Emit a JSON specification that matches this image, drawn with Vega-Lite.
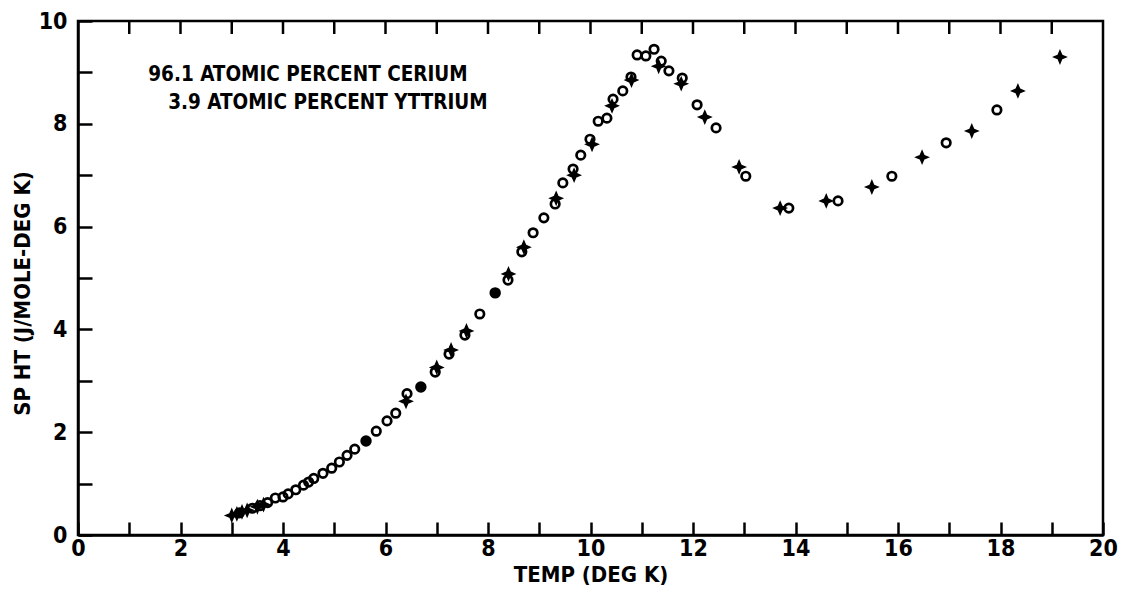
{
  "$schema": "https://vega.github.io/schema/vega-lite/v6.json",
  "width": 1025,
  "height": 514,
  "autosize": "none",
  "padding": {"left": 78, "top": 21, "right": 25, "bottom": 63},
  "background": "white",
  "config": {
    "view": {"stroke": "black", "strokeWidth": 2.5},
    "axis": {
      "domainColor": "black", "domainWidth": 2.5, "tickColor": "black", "tickWidth": 2.5,
      "grid": false, "labelColor": "black", "titleColor": "black",
      "labelFont": "DejaVu Sans Condensed", "labelFontWeight": "bold", "labelFontSize": 23,
      "titleFont": "DejaVu Sans Condensed", "titleFontWeight": "bold", "titleFontSize": 22
    }
  },
  "datasets": {
    "pts": [
      {"t": 3.0, "c": 0.38, "k": "plus"}, {"t": 3.1, "c": 0.41, "k": "plus"}, {"t": 3.2, "c": 0.45, "k": "plus"},
      {"t": 3.3, "c": 0.48, "k": "plus"}, {"t": 3.5, "c": 0.55, "k": "plus"}, {"t": 3.62, "c": 0.59, "k": "plus"},
      {"t": 3.15, "c": 0.43, "k": "open"}, {"t": 3.4, "c": 0.52, "k": "open"}, {"t": 3.55, "c": 0.57, "k": "open"},
      {"t": 3.7, "c": 0.63, "k": "open"}, {"t": 3.85, "c": 0.72, "k": "open"}, {"t": 4.0, "c": 0.74, "k": "open"},
      {"t": 4.1, "c": 0.8, "k": "open"}, {"t": 4.25, "c": 0.88, "k": "open"}, {"t": 4.4, "c": 0.97, "k": "open"},
      {"t": 4.5, "c": 1.03, "k": "open"}, {"t": 4.6, "c": 1.1, "k": "open"}, {"t": 4.78, "c": 1.2, "k": "open"},
      {"t": 4.95, "c": 1.3, "k": "open"}, {"t": 5.1, "c": 1.42, "k": "open"}, {"t": 5.25, "c": 1.55, "k": "open"},
      {"t": 5.4, "c": 1.67, "k": "open"}, {"t": 5.62, "c": 1.83, "k": "filled"}, {"t": 5.82, "c": 2.02, "k": "open"},
      {"t": 6.03, "c": 2.22, "k": "open"}, {"t": 6.2, "c": 2.37, "k": "open"}, {"t": 6.42, "c": 2.75, "k": "open"},
      {"t": 6.4, "c": 2.6, "k": "plus"}, {"t": 6.69, "c": 2.88, "k": "filled"}, {"t": 6.97, "c": 3.17, "k": "open"},
      {"t": 7.0, "c": 3.26, "k": "plus"}, {"t": 7.24, "c": 3.52, "k": "open"}, {"t": 7.28, "c": 3.6, "k": "plus"},
      {"t": 7.55, "c": 3.89, "k": "open"}, {"t": 7.58, "c": 3.97, "k": "plus"}, {"t": 7.84, "c": 4.3, "k": "open"},
      {"t": 8.14, "c": 4.71, "k": "filled"}, {"t": 8.39, "c": 4.96, "k": "open"}, {"t": 8.4, "c": 5.08, "k": "plus"},
      {"t": 8.66, "c": 5.51, "k": "open"}, {"t": 8.7, "c": 5.6, "k": "plus"}, {"t": 8.88, "c": 5.88, "k": "open"},
      {"t": 9.09, "c": 6.17, "k": "open"}, {"t": 9.31, "c": 6.44, "k": "open"}, {"t": 9.33, "c": 6.55, "k": "plus"},
      {"t": 9.46, "c": 6.85, "k": "open"}, {"t": 9.66, "c": 7.12, "k": "open"}, {"t": 9.68, "c": 7.0, "k": "plus"},
      {"t": 9.81, "c": 7.39, "k": "open"}, {"t": 9.99, "c": 7.7, "k": "open"}, {"t": 10.03, "c": 7.6, "k": "plus"},
      {"t": 10.15, "c": 8.05, "k": "open"}, {"t": 10.32, "c": 8.11, "k": "open"}, {"t": 10.44, "c": 8.48, "k": "open"},
      {"t": 10.42, "c": 8.35, "k": "plus"}, {"t": 10.63, "c": 8.64, "k": "open"}, {"t": 10.79, "c": 8.91, "k": "open"},
      {"t": 10.8, "c": 8.85, "k": "plus"}, {"t": 10.91, "c": 9.34, "k": "open"}, {"t": 11.08, "c": 9.32, "k": "open"},
      {"t": 11.24, "c": 9.45, "k": "open"}, {"t": 11.38, "c": 9.22, "k": "open"}, {"t": 11.33, "c": 9.12, "k": "plus"},
      {"t": 11.53, "c": 9.03, "k": "open"}, {"t": 11.79, "c": 8.89, "k": "open"}, {"t": 11.77, "c": 8.78, "k": "plus"},
      {"t": 12.08, "c": 8.37, "k": "open"}, {"t": 12.23, "c": 8.13, "k": "plus"}, {"t": 12.45, "c": 7.92, "k": "open"},
      {"t": 12.9, "c": 7.16, "k": "plus"}, {"t": 13.03, "c": 6.98, "k": "open"}, {"t": 13.7, "c": 6.36, "k": "plus"},
      {"t": 13.87, "c": 6.36, "k": "open"}, {"t": 14.6, "c": 6.5, "k": "plus"}, {"t": 14.83, "c": 6.5, "k": "open"},
      {"t": 15.49, "c": 6.77, "k": "plus"}, {"t": 15.88, "c": 6.98, "k": "open"}, {"t": 16.47, "c": 7.35, "k": "plus"},
      {"t": 16.94, "c": 7.63, "k": "open"}, {"t": 17.44, "c": 7.86, "k": "plus"}, {"t": 17.93, "c": 8.27, "k": "open"},
      {"t": 18.34, "c": 8.64, "k": "plus"}, {"t": 19.16, "c": 9.3, "k": "plus"}
    ],
    "notes": [
      {"t": 1.37, "c": 8.95, "txt": "96.1 ATOMIC PERCENT CERIUM"},
      {"t": 1.76, "c": 8.4, "txt": "3.9 ATOMIC PERCENT YTTRIUM"}
    ],
    "topticks": [
      {"t": 1}, {"t": 2}, {"t": 3}, {"t": 4}, {"t": 5}, {"t": 6}, {"t": 7}, {"t": 8}, {"t": 9}, {"t": 10},
      {"t": 11}, {"t": 12}, {"t": 13}, {"t": 14}, {"t": 15}, {"t": 16}, {"t": 17}, {"t": 18}, {"t": 19}
    ]
  },
  "layer": [
    {
      "data": {"name": "topticks"},
      "mark": {"type": "tick", "orient": "vertical", "color": "black", "thickness": 2.5, "size": 26, "opacity": 1, "clip": true},
      "encoding": {
        "x": {"field": "t", "type": "quantitative", "scale": {"domain": [0, 20], "nice": false}},
        "y": {"datum": 10, "type": "quantitative", "scale": {"domain": [0, 10], "nice": false}}
      }
    },
    {
      "data": {"name": "pts"},
      "mark": {"type": "point", "filled": true, "stroke": "black", "opacity": 1},
      "encoding": {
        "x": {"field": "t", "type": "quantitative", "scale": {"domain": [0, 20], "nice": false},
          "axis": {"title": "TEMP (DEG K)", "values": [0,1,2,3,4,5,6,7,8,9,10,11,12,13,14,15,16,17,18,19,20],
            "labelExpr": "datum.value % 2 === 0 ? datum.label : ''", "tickSize": -13, "labelPadding": 15, "titlePadding": 4, "labelFlush": false, "labelOverlap": false}},
        "y": {"field": "c", "type": "quantitative", "scale": {"domain": [0, 10], "nice": false},
          "axis": {"title": "SP HT (J/MOLE-DEG K)", "values": [0,1,2,3,4,5,6,7,8,9,10],
            "labelExpr": "datum.value % 2 === 0 ? datum.label : ''", "tickSize": -14, "labelPadding": 25, "titleX": -56, "titleY": 272, "titleBaseline": "middle", "titleAlign": "center", "labelFlush": false, "labelOverlap": false}},
        "shape": {"field": "k", "type": "nominal", "legend": null,
          "scale": {"domain": ["open", "filled", "plus"], "range": ["circle", "circle", "M0,-1L0.3,-0.3L1,0L0.3,0.3L0,1L-0.3,0.3L-1,0L-0.3,-0.3Z"]}},
        "fill": {"field": "k", "type": "nominal", "legend": null,
          "scale": {"domain": ["open", "filled", "plus"], "range": ["transparent", "black", "black"]}},
        "size": {"field": "k", "type": "ordinal", "legend": null,
          "scale": {"domain": ["open", "filled", "plus"], "range": [72, 80, 50]}},
        "strokeWidth": {"field": "k", "type": "ordinal", "legend": null,
          "scale": {"domain": ["open", "filled", "plus"], "range": [2.7, 2.7, 0.5]}}
      }
    },
    {
      "data": {"name": "notes"},
      "mark": {"type": "text", "align": "left", "baseline": "middle", "font": "DejaVu Sans Condensed", "fontWeight": "bold", "fontSize": 20.5, "fill": "black"},
      "encoding": {
        "x": {"field": "t", "type": "quantitative"},
        "y": {"field": "c", "type": "quantitative"},
        "text": {"field": "txt"}
      }
    }
  ]
}
